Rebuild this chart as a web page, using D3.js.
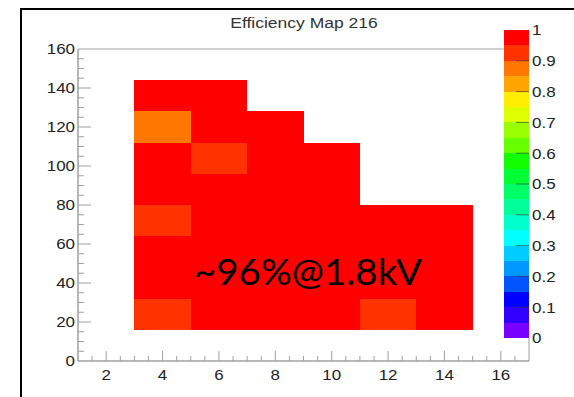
<!DOCTYPE html>
<html>
<head>
<meta charset="utf-8">
<script src="https://cdn.jsdelivr.net/npm/d3@7"></script>
<style>
  body { margin: 0; background: #fff; }
  svg { display: block; }
  text { font-family: "Liberation Sans", Arial, sans-serif; }
</style>
</head>
<body>
<div id="chart"></div>
<script>
// bin centres, 2 wide in x and 16 tall in y
var xBins = [4, 6, 8, 10, 12, 14];
var yBins = [24, 40, 56, 72, 88, 104, 120, 136];
// efficiency per row (bottom to top), one value per x bin, null = empty
var effRows = [
  [0.92, 0.97, 0.97, 0.97, 0.92, 0.97],
  [0.97, 0.97, 0.97, 0.97, 0.97, 0.97],
  [0.97, 0.97, 0.97, 0.97, 0.97, 0.97],
  [0.92, 0.97, 0.97, 0.97, 0.97, 0.97],
  [0.97, 0.97, 0.97, 0.97, null, null],
  [0.97, 0.92, 0.97, 0.97, null, null],
  [0.87, 0.97, 0.97, null, null, null],
  [0.97, 0.97, null, null, null, null]
];
var xTicks = [2, 4, 6, 8, 10, 12, 14, 16];
var yTicks = [0, 20, 40, 60, 80, 100, 120, 140, 160];
var zTicks = [0, 0.1, 0.2, 0.3, 0.4, 0.5, 0.6, 0.7, 0.8, 0.9, 1];
// palette, low to high (20 bands)
var palette = ["#7700ff", "#3300ff", "#0000ff", "#0055ff", "#0099ff",
  "#00ccff", "#00ffff", "#00ffcc", "#00ff99", "#00ff66",
  "#00ff33", "#11ff00", "#66ff00", "#99ff00", "#ddff00",
  "#ffee00", "#ffa500", "#ff7700", "#ff3300", "#ff0000"];
var title = "Efficiency Map 216";
var note = "~96%@1.8kV";

var W = 574, H = 397;
var padL = 78, padR = 529, padT = 49, padB = 361;
var binW = 2, binH = 16;
var stretch = 1.13; // the source image is a bit wider than tall

var svg = d3.select("#chart").append("svg")
  .attr("width", W).attr("height", H);

// canvas border
svg.append("path")
  .attr("d", "M21," + H + "V9H" + W)
  .attr("fill", "none").attr("stroke", "#000").attr("stroke-width", 2);

var x = d3.scaleLinear().domain([1, 17]).range([padL, padR]);
var y = d3.scaleLinear().domain([0, 160]).range([padB, padT]);
var z = d3.scaleLinear().domain([0, 1]).range([338, 30]);
var color = d3.scaleQuantize().domain([0, 1]).range(palette);

function place(px, py) {
  return "translate(" + px + "," + py + ") scale(" + stretch + ",1)";
}

// cells
var cells = [];
effRows.forEach(function(row, j) {
  row.forEach(function(v, i) {
    if (v !== null) cells.push({ x: xBins[i], y: yBins[j], v: v });
  });
});

svg.append("g").selectAll("rect")
  .data(cells)
  .enter()
  .append("rect")
  .attr("x", function(d) { return x(d.x - binW / 2); })
  .attr("y", function(d) { return y(d.y + binH / 2); })
  .attr("width", function(d) { return x(d.x + binW / 2) - x(d.x - binW / 2); })
  .attr("height", function(d) { return y(d.y - binH / 2) - y(d.y + binH / 2); })
  .attr("fill", function(d) { return color(d.v); })
  .attr("shape-rendering", "crispEdges");

var axisCol = "#a0a0a0";

// frame (top + right)
svg.append("path")
  .attr("d", "M" + padL + "," + padT + "H504M" + padR + ",338V" + padB)
  .attr("fill", "none").attr("stroke", axisCol).attr("stroke-width", 1);

// x axis: ticks drawn inward
var xMinor = d3.range(1.5, 17, 0.5);
var gx = svg.append("g");
gx.append("line").attr("x1", padL).attr("x2", padR)
  .attr("y1", padB).attr("y2", padB).attr("stroke", axisCol).attr("stroke-width", 1.5);
gx.selectAll(".mt").data(xMinor).enter().append("line")
  .attr("x1", function(d) { return x(d); }).attr("x2", function(d) { return x(d); })
  .attr("y1", padB).attr("y2", function(d) { return d % 2 === 0 ? padB - 10 : padB - 5; })
  .attr("stroke", axisCol);
gx.selectAll("text").data(xTicks).enter().append("text")
  .attr("transform", function(d) { return place(x(d), 380); })
  .attr("text-anchor", "middle")
  .attr("font-size", 15).attr("fill", "#222")
  .text(function(d) { return d; });

// y axis
var yMinor = d3.range(5, 160, 5);
var gy = svg.append("g");
gy.append("line").attr("x1", padL).attr("x2", padL)
  .attr("y1", padT).attr("y2", padB).attr("stroke", axisCol).attr("stroke-width", 1.5);
gy.selectAll(".mt").data(yMinor).enter().append("line")
  .attr("y1", function(d) { return y(d); }).attr("y2", function(d) { return y(d); })
  .attr("x1", padL).attr("x2", function(d) { return d % 20 === 0 ? padL + 13 : padL + 6; })
  .attr("stroke", axisCol);
gy.selectAll("text").data(yTicks).enter().append("text")
  .attr("transform", function(d) { return place(75, y(d)); })
  .attr("dy", "0.36em")
  .attr("text-anchor", "end")
  .attr("font-size", 15).attr("fill", "#222")
  .text(function(d) { return d; });

// palette
var band = 1 / palette.length;
svg.append("g").selectAll("rect")
  .data(palette)
  .enter()
  .append("rect")
  .attr("x", 504)
  .attr("width", 25)
  .attr("y", function(d, i) { return z((i + 1) * band); })
  .attr("height", function(d, i) { return z(i * band) - z((i + 1) * band); })
  .attr("fill", function(d) { return d; })
  .attr("shape-rendering", "crispEdges");

var gz = svg.append("g");
gz.selectAll("line").data(zTicks.slice(1, -1)).enter().append("line")
  .attr("x1", 516).attr("x2", 529)
  .attr("y1", function(d) { return z(d); }).attr("y2", function(d) { return z(d); })
  .attr("stroke", "#333").attr("stroke-opacity", 0.6);
gz.selectAll("text").data(zTicks).enter().append("text")
  .attr("transform", function(d) { return place(532, z(d)); })
  .attr("dy", "0.36em")
  .attr("font-size", 15).attr("fill", "#222")
  .text(function(d) { return d3.format("")(+d.toFixed(1)); });

// title
svg.append("text")
  .attr("transform", place(304, 28))
  .attr("text-anchor", "middle")
  .attr("font-size", 15.5).attr("fill", "#333")
  .text(title);

// annotation
svg.append("text")
  .attr("x", 194).attr("y", 285)
  .style("font-family", "Lato, 'Open Sans', sans-serif")
  .attr("font-size", 36)
  .attr("textLength", 228)
  .attr("lengthAdjust", "spacingAndGlyphs")
  .attr("fill", "#000")
  .text(note);
</script>
</body>
</html>
